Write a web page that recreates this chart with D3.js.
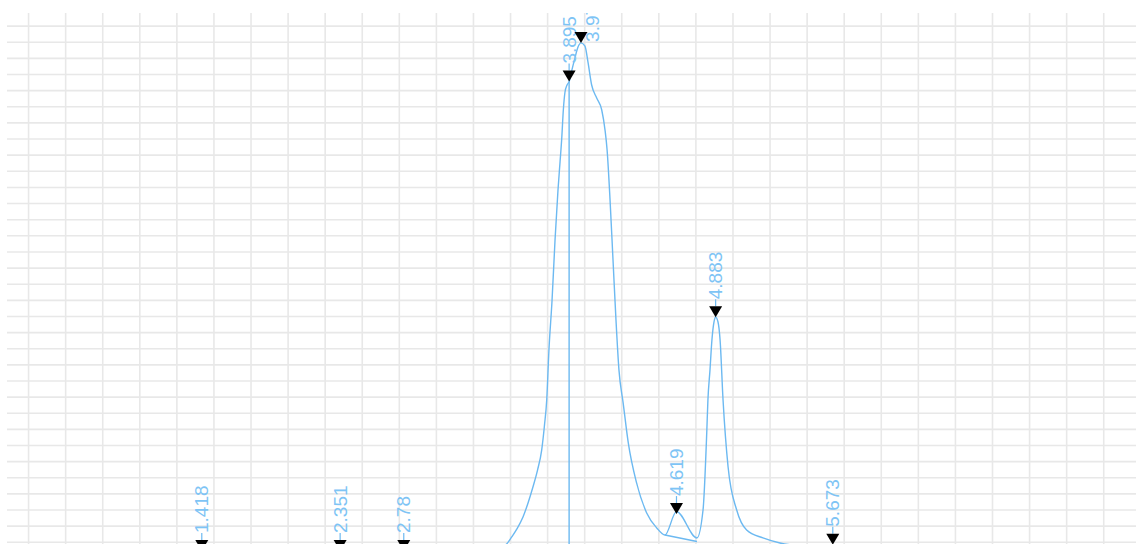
<!DOCTYPE html>
<html><head><meta charset="utf-8">
<script src="https://cdn.jsdelivr.net/npm/d3@7/dist/d3.min.js"></script>
<style>html,body{margin:0;padding:0;background:#fff;overflow:hidden}</style>
</head><body>
<svg id="chart" width="1136" height="544"></svg>
<script>
// Retention time (min) and detector signal (mAU) of the trace
const traceTime = [0.10, 0.40, 0.80, 1.20, 1.36, 1.418, 1.48, 1.80, 2.20, 2.30, 2.351, 2.40, 2.70, 2.78, 2.84, 3.10, 3.30, 3.40,
  3.449, 3.474, 3.508, 3.543, 3.584, 3.618, 3.651, 3.682, 3.710, 3.729, 3.744, 3.759, 3.780, 3.800, 3.820, 3.834, 3.845, 3.856,
  3.867, 3.881, 3.895, 3.914, 3.934, 3.955, 3.975, 4.002, 4.022, 4.047, 4.081, 4.115, 4.137, 4.151, 4.171, 4.191, 4.211, 4.231,
  4.260, 4.294, 4.350, 4.418, 4.486, 4.541, 4.619, 4.757, 4.798, 4.823, 4.831, 4.845, 4.858, 4.872, 4.883, 4.899, 4.913, 4.933,
  4.967, 5.025, 5.092, 5.202, 5.317, 5.452, 5.600, 5.673, 5.750, 6.200, 7.000, 7.700];
const traceSignal = [-8.0, -8.2, -7.9, -7.6, -7.4, -5.4, -7.3, -7.2, -7.0, -6.9, -5.4, -6.9, -6.8, -5.4, -6.7, -6.3, -5.4, -4.0,
  -2.3, -1.0, 3.3, 8.3, 15.7, 24.4, 34.3, 44.8, 57.2, 72.7, 88.2, 119.3, 150.2, 187.4, 218.4, 236.0, 250.0, 268.0,
  279.0, 283.5, 285.6, 292.9, 300.2, 307.0, 309.6, 307.6, 297.8, 283.5, 275.4, 268.0, 255.7, 243.4, 212.3, 175.0, 137.9, 106.9,
  86.0, 61.6, 36.8, 18.2, 8.9, 4.5, 19.0, 2.7, 20.0, 67.8, 88.2, 106.9, 125.4, 136.6, 139.5, 136.6, 125.4, 88.2,
  46.7, 20.0, 7.6, 2.7, -0.4, -2.3, -3.2, -1.5, -3.3, -3.8, -4.2, -4.5];

// Integrated peaks
const peakTimes = [1.418, 2.351, 2.78, 3.895, 3.975, 4.619, 4.883, 5.673];
const peakSignals = [-5.4, -5.4, -5.4, 285.6, 309.6, 17.5, 139.5, -1.5];
const peakLabels = ["1.418", "2.351", "2.78", "3.895", "3.975", "4.619", "4.883", "5.673"];

// Drop line and skimmed baseline
const dropLineTimes = [3.895];
const skimBaselineTimes = [4.541, 4.757];
const skimBaselineSignals = [4.5, 0.5];

// Grid ticks
const timeGridTicks = d3.range(1, 31).map(i => i * 0.25);
const signalGridTicks = d3.range(0, 33).map(i => i * 10);

const W = 1136, H = 544;
const plot = {left: 7, top: 13, right: 1136, bottom: 544};
const x = d3.scaleLinear().domain([0, 7.75]).range([-8.5, 1140.8]);
const y = d3.scaleLinear().domain([-10, 330]).range([558.43, 10.0]);

const lineColor = "#6cb9f1";
const textColor = "#7ec4f5";

const svg = d3.select("#chart");
svg.append("defs").append("clipPath").attr("id", "plotClip")
  .append("rect").attr("x", plot.left).attr("y", plot.top)
  .attr("width", plot.right - plot.left).attr("height", plot.bottom - plot.top + 20);

const g = svg.append("g").attr("clip-path", "url(#plotClip)");

// Grid
g.append("g").selectAll("line").data(timeGridTicks).join("line")
  .attr("x1", d => x(d)).attr("x2", d => x(d))
  .attr("y1", plot.top).attr("y2", H + 10)
  .attr("stroke", "#e8e8e8").attr("stroke-width", 1.6);
g.append("g").selectAll("line").data(signalGridTicks).join("line")
  .attr("x1", plot.left).attr("x2", W + 10)
  .attr("y1", d => y(d)).attr("y2", d => y(d))
  .attr("stroke", "#e8e8e8").attr("stroke-width", 1.6);

// Trace
const pts = traceTime.map((t, i) => [t, traceSignal[i]]);
const line = d3.line().x(d => x(d[0])).y(d => y(d[1])).curve(d3.curveMonotoneX);
g.append("path").datum(pts).attr("d", line)
  .attr("fill", "none").attr("stroke", lineColor).attr("stroke-width", 1.4);

// Skim baseline
const skim = skimBaselineTimes.map((t, i) => [t, skimBaselineSignals[i]]);
g.append("path").datum(skim).attr("d", d3.line().x(d => x(d[0])).y(d => y(d[1])))
  .attr("fill", "none").attr("stroke", lineColor).attr("stroke-width", 1.4);

// Drop lines
g.append("g").selectAll("line").data(dropLineTimes).join("line")
  .attr("x1", d => x(d)).attr("x2", d => x(d))
  .attr("y1", d => y(peakSignals[peakTimes.indexOf(d)])).attr("y2", y(-10))
  .attr("stroke", lineColor).attr("stroke-width", 1.4);

// Peak markers with simple label collision handling
const triW = 13, triH = 11, gap = 7, fontSize = 19;
let lastLabelX = -Infinity;
const peaks = peakTimes.map((t, i) => {
  const px = x(t);
  const shifted = px - lastLabelX < fontSize;
  const p = {t, v: peakSignals[i], label: peakLabels[i], shifted};
  lastLabelX = shifted ? px + 11 : px;
  return p;
});
const pg = g.append("g").selectAll("g").data(peaks).join("g")
  .attr("transform", d => `translate(${x(d.t)},${y(d.v)})`);
pg.filter(d => !d.shifted).append("line").attr("x1", 0).attr("x2", 0).attr("y1", -triH).attr("y2", -triH - gap)
  .attr("stroke", lineColor).attr("stroke-width", 1.2);
pg.append("path").attr("d", `M${-triW/2},${-triH}L${triW/2},${-triH}L0,0Z`).attr("fill", "#000");
pg.append("text")
  .attr("transform", d => d.shifted ? `translate(11,-1) rotate(-90)` : `translate(0,${-triH - gap}) rotate(-90)`)
  .attr("dy", "0.35em")
  .attr("text-anchor", "start")
  .attr("font-family", "Liberation Sans, Arial, sans-serif")
  .attr("font-size", fontSize)
  .attr("fill", textColor)
  .text(d => d.label);
</script>
</body></html>
